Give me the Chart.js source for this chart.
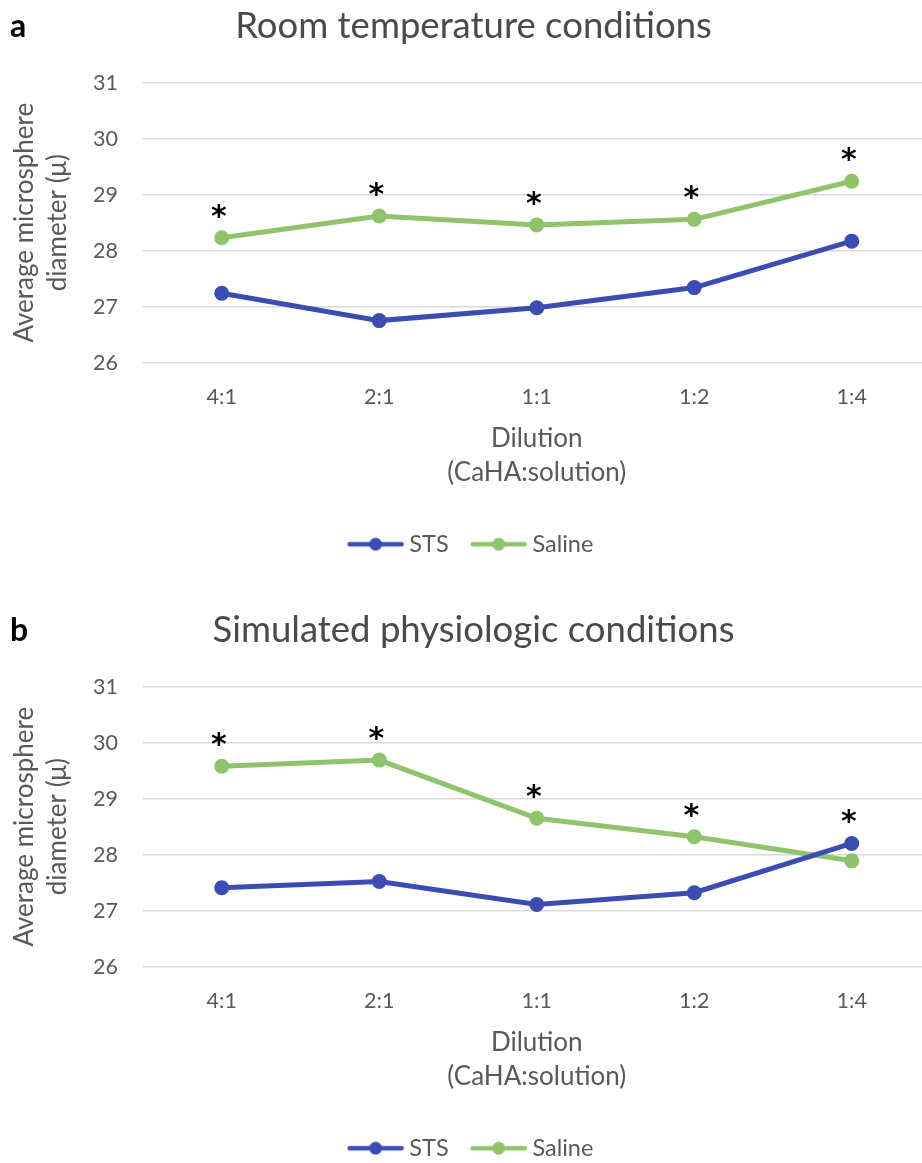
<!DOCTYPE html>
<html><head><meta charset="utf-8">
<script src="https://cdn.jsdelivr.net/npm/chart.js@4"></script>
<style>
html,body{margin:0;padding:0;background:#fff;overflow:hidden;width:922px;height:1163px;}
.wrap{position:absolute;left:0;width:938px;height:580px;}
</style></head><body>
<div class="wrap" style="top:0"><canvas id="ca"></canvas></div>
<div class="wrap" style="top:604px"><canvas id="cb"></canvas></div>
<script>
const categories = ['4:1', '2:1', '1:1', '1:2', '1:4'];
const stsRoom = [27.24, 26.75, 26.98, 27.34, 28.17];
const salineRoom = [28.23, 28.62, 28.46, 28.56, 29.24];
const stsPhys = [27.41, 27.52, 27.11, 27.32, 28.20];
const salinePhys = [29.58, 29.69, 28.65, 28.32, 27.89];
const sigRoom = [true, true, true, true, true];
const sigPhys = [true, true, true, true, true];
const yMin = 26, yMax = 31, yStep = 1;

const BLUE = '#3b4db3', GREEN = '#8fc46a', GREY = '#595959', TITLE = '#4a4a4a';
const FONT = 'Lato';
const PAD_LEFT = 16;

function legendIcon(color){
  const c = document.createElement('canvas'); c.width = 58; c.height = 16;
  const g = c.getContext('2d');
  g.strokeStyle = color; g.lineWidth = 4.5; g.lineCap = 'round';
  g.beginPath(); g.moveTo(3, 8); g.lineTo(55, 8); g.stroke();
  g.fillStyle = color; g.beginPath(); g.arc(29, 8, 6.5, 0, Math.PI * 2); g.fill();
  return c;
}
const icons = [legendIcon(BLUE), legendIcon(GREEN)];

const annot = {
  id: 'annot',
  afterDatasetsDraw(chart, args, opts){
    const {ctx, scales: {x, y}} = chart;
    ctx.save();
    ctx.fillStyle = '#000';
    ctx.font = 'bold 30px "DejaVu Sans"';
    ctx.textAlign = 'center'; ctx.textBaseline = 'middle';
    opts.sig.forEach((s, i) => {
      if (!s) return;
      const top = Math.max(...chart.data.datasets.map(d => d.data[i]));
      ctx.fillText('*', x.getPixelForValue(i) - 3, y.getPixelForValue(top) - opts.gap);
    });
    ctx.font = 'bold 32px ' + FONT; ctx.textAlign = 'left';
    ctx.fillText(opts.letter, 10, 27);
    ctx.restore();
  }
};

function makeChart(id, title, letter, sts, saline, sig){
  const ds = (label, data, color) => ({
    label, data, borderColor: color, backgroundColor: color,
    borderWidth: 5, pointRadius: 7.5, pointHoverRadius: 7.5, pointBorderWidth: 0,
    pointBackgroundColor: color, tension: 0
  });
  return new Chart(document.getElementById(id), {
    type: 'line',
    data: { labels: categories, datasets: [ds('STS', sts, BLUE), ds('Saline', saline, GREEN)] },
    plugins: [annot],
    options: {
      responsive: true, maintainAspectRatio: false, animation: false,
      layout: { padding: { left: PAD_LEFT, right: 7, top: 0, bottom: 14 } },
      plugins: {
        annot: { letter, sig, gap: 20 },
        tooltip: { enabled: false },
        title: { display: true, text: title, color: TITLE,
          font: { family: FONT, size: 36.5, weight: 'normal', lineHeight: 1.2 },
          padding: { top: 4, bottom: 35 } },
        legend: { position: 'bottom',
          labels: { usePointStyle: true, pointStyleWidth: 44, color: GREY, padding: 28,
            font: { family: FONT, size: 23.5 },
            generateLabels(chart){
              const items = Chart.defaults.plugins.legend.labels.generateLabels(chart);
              items.forEach((it, i) => { it.pointStyle = icons[i]; });
              return items;
            } } }
      },
      scales: {
        x: { type: 'category', offset: true,
          grid: { display: false, drawTicks: false }, border: { display: false },
          ticks: { color: GREY, padding: 22, font: { family: FONT, size: 21.5 } },
          title: { display: true, text: ['Dilution', '(CaHA:solution)'], color: GREY,
            font: { family: FONT, size: 26, lineHeight: 1.31 }, padding: { top: -11, bottom: 15 } } },
        y: { min: yMin, max: yMax,
          grid: { color: '#d9d9d9', lineWidth: 1.4, drawTicks: false }, border: { display: false },
          ticks: { stepSize: yStep, color: GREY, padding: 25, font: { family: FONT, size: 21.5 } },
          title: { display: true, text: ['Average microsphere', 'diameter (\u03bc)'], color: GREY,
            font: { family: FONT, size: 26, lineHeight: 1.28 }, padding: { top: 8 - PAD_LEFT, bottom: 0 } },
          afterFit(scale){ scale.width = 143 - PAD_LEFT; } }
      }
    }
  });
}
makeChart('ca', 'Room temperature conditions', 'a', stsRoom, salineRoom, sigRoom);
makeChart('cb', 'Simulated physiologic conditions', 'b', stsPhys, salinePhys, sigPhys);
</script>
</body></html>
